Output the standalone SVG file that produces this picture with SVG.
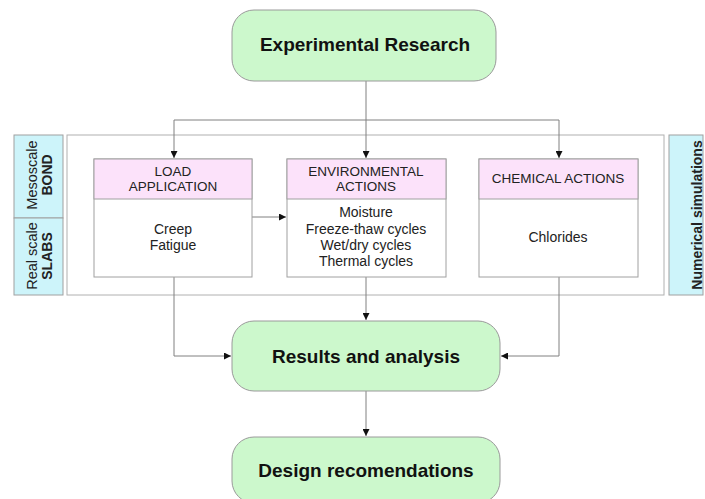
<svg xmlns="http://www.w3.org/2000/svg" width="705" height="499" viewBox="0 0 705 499">
<defs>
<style>
.term{fill:#ccf8cc;stroke:#9a9a9a;stroke-width:1}
.box{fill:#ffffff;stroke:#a0a0a0;stroke-width:1}
.hdr{fill:#fce2fa;stroke:#a0a0a0;stroke-width:1}
.side{fill:#cdf4fa;stroke:#a0a0a0;stroke-width:1}
.frame{fill:none;stroke:#b0b0b0;stroke-width:1}
.ln{fill:none;stroke:#808080;stroke-width:1}
.big{font-family:"Liberation Sans",Arial,sans-serif;font-weight:bold;font-size:19px;fill:#111;text-anchor:middle}
.t{font-family:"Liberation Sans",Arial,sans-serif;font-size:14px;fill:#222;text-anchor:middle}
.h{font-family:"Liberation Sans",Arial,sans-serif;font-size:13.5px;fill:#222;text-anchor:middle}
.s{font-family:"Liberation Sans",Arial,sans-serif;font-size:14.5px;fill:#222;text-anchor:middle}
.sb{font-family:"Liberation Sans",Arial,sans-serif;font-size:14px;font-weight:bold;fill:#222;text-anchor:middle}
</style>
<marker id="ar" viewBox="0 0 10 10" refX="10" refY="5" markerWidth="7" markerHeight="7" orient="auto" markerUnits="userSpaceOnUse">
<path d="M0,0 L10,5 L0,10 z" fill="#111"/>
</marker>
</defs>
<rect width="705" height="499" fill="#ffffff"/>
<rect class="frame" x="67" y="135" width="597" height="160"/>
<g id="side-bond">
<rect class="side" x="14" y="135" width="49" height="83"/>
<text class="s" transform="translate(37,175) rotate(-90)">Mesoscale</text>
<text class="sb" transform="translate(52,175) rotate(-90)">BOND</text>
</g>
<g id="side-slabs">
<rect class="side" x="14" y="218" width="49" height="77"/>
<text class="s" transform="translate(37,256) rotate(-90)">Real scale</text>
<text class="sb" transform="translate(52,256) rotate(-90)">SLABS</text>
</g>
<g id="side-num">
<rect class="side" x="669" y="135" width="34" height="160"/>
<text class="sb" transform="translate(702,215) rotate(-90)">Numerical simulations</text>
</g>
<g id="connectors">
<path class="ln" d="M366,81 V120"/>
<path class="ln" d="M174,120 H559"/>
<path class="ln" d="M174,120 V158" marker-end="url(#ar)"/>
<path class="ln" d="M366,120 V158" marker-end="url(#ar)"/>
<path class="ln" d="M559,120 V158" marker-end="url(#ar)"/>
<path class="ln" d="M252,217 H286" marker-end="url(#ar)"/>
<path class="ln" d="M174,277 V356 H231" marker-end="url(#ar)"/>
<path class="ln" d="M366,277 V320" marker-end="url(#ar)"/>
<path class="ln" d="M559,277 V356 H501" marker-end="url(#ar)"/>
<path class="ln" d="M366,391 V436" marker-end="url(#ar)"/>
</g>
<g id="experimental-research">
<rect class="term" x="232" y="10" width="264" height="71" rx="22"/>
<text class="big" x="365" y="51">Experimental Research</text>
</g>
<g id="load-application">
<rect class="box" x="94" y="159" width="158" height="118"/>
<rect class="hdr" x="94" y="159" width="158" height="40"/>
<text class="h" x="173" y="176">LOAD</text>
<text class="h" x="173" y="191">APPLICATION</text>
<text class="t" x="173" y="234">Creep</text>
<text class="t" x="173" y="250">Fatigue</text>
</g>
<g id="environmental-actions">
<rect class="box" x="287" y="159" width="159" height="118"/>
<rect class="hdr" x="287" y="159" width="159" height="40"/>
<text class="h" x="366" y="176">ENVIRONMENTAL</text>
<text class="h" x="366" y="191">ACTIONS</text>
<text class="t" x="366" y="217">Moisture</text>
<text class="t" x="366" y="234">Freeze-thaw cycles</text>
<text class="t" x="366" y="250">Wet/dry cycles</text>
<text class="t" x="366" y="266">Thermal cycles</text>
</g>
<g id="chemical-actions">
<rect class="box" x="479" y="159" width="159" height="118"/>
<rect class="hdr" x="479" y="159" width="159" height="40"/>
<text class="h" x="558" y="183">CHEMICAL ACTIONS</text>
<text class="t" x="558" y="242">Chlorides</text>
</g>
<g id="results-analysis">
<rect class="term" x="232" y="321" width="268" height="70" rx="22"/>
<text class="big" x="366" y="363">Results and analysis</text>
</g>
<g id="design-recommendations">
<rect class="term" x="232" y="437" width="268" height="66" rx="22"/>
<text class="big" x="366" y="477">Design recomendations</text>
</g>
</svg>
